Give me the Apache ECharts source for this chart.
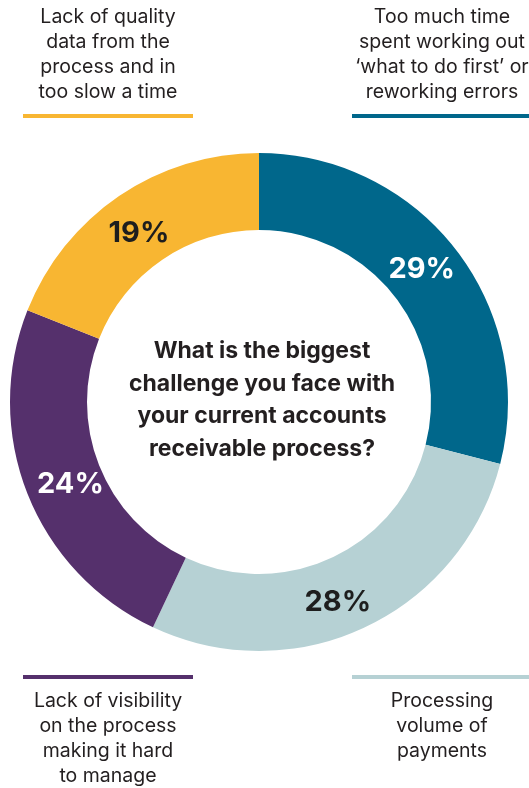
<!DOCTYPE html>
<html>
<head>
<meta charset="utf-8">
<script src="https://cdn.jsdelivr.net/npm/echarts@6/dist/echarts.min.js"></script>
<style>
html,body{margin:0;padding:0;background:#ffffff;}
#chart{width:529px;height:788px;}
</style>
</head>
<body>
<div id="chart"></div>
<script>
var categories = [
  "Too much time\nspent working out\n\u2018what to do first\u2019 or\nreworking errors",
  "Processing\nvolume of\npayments",
  "Lack of visibility\non the process\nmaking it hard\nto manage",
  "Lack of quality\ndata from the\nprocess and in\ntoo slow a time"
];
var values = [29, 28, 24, 19];
var question = "What is the biggest\nchallenge you face with\nyour current accounts\nreceivable process?";

var palette = ["#00678B", "#B6D1D4", "#55306C", "#F8B632"];
var labelColors = ["#ffffff", "#1e1e1e", "#ffffff", "#1e1e1e"];
var labelOffsets = [[-6, -2], [-12, 7], [10, 4], [0, 8]];
var FONT = "Inter, 'Noto Sans', sans-serif";

var corners = [
  {x1: 352, x2: 529, by: 116, tx: 442, ty: 116, above: true},
  {x1: 352, x2: 529, by: 677, tx: 442, ty: 689, above: false},
  {x1: 23,  x2: 193, by: 677, tx: 108, ty: 689, above: false},
  {x1: 23,  x2: 193, by: 116, tx: 108, ty: 116, above: true}
];

var graphics = [];
corners.forEach(function (c, i) {
  graphics.push({
    type: 'rect',
    shape: {x: c.x1, y: c.by - 2, width: c.x2 - c.x1, height: 4},
    style: {fill: palette[i]}
  });
  graphics.push({
    type: 'text',
    x: c.tx,
    y: c.above ? c.ty - 11 : c.ty,
    style: {
      text: categories[i],
      fill: '#231f20',
      font: '400 19.5px ' + FONT,
      lineHeight: 25,
      align: 'center',
      verticalAlign: c.above ? 'bottom' : 'top'
    }
  });
});
graphics.push({
  type: 'text',
  x: 262,
  y: 400,
  style: {
    text: question,
    fill: '#231f20',
    font: '700 23px ' + FONT,
    lineHeight: 32.7,
    align: 'center',
    verticalAlign: 'middle'
  }
});

var chart = echarts.init(document.getElementById('chart'), null, {renderer: 'canvas'});
chart.setOption({
  animation: false,
  color: palette,
  graphic: graphics,
  series: [{
    type: 'pie',
    center: [259, 402],
    radius: [172, 249],
    startAngle: 90,
    clockwise: true,
    avoidLabelOverlap: false,
    itemStyle: {borderWidth: 0},
    emphasis: {disabled: true},
    label: {
      show: true,
      position: 'inside',
      formatter: '{c}%',
      fontFamily: FONT,
      fontWeight: 700,
      fontSize: 29
    },
    labelLine: {show: false},
    data: values.map(function (v, i) {
      return {
        value: v,
        name: categories[i],
        label: {color: labelColors[i], offset: labelOffsets[i]}
      };
    })
  }]
});
</script>
</body>
</html>
